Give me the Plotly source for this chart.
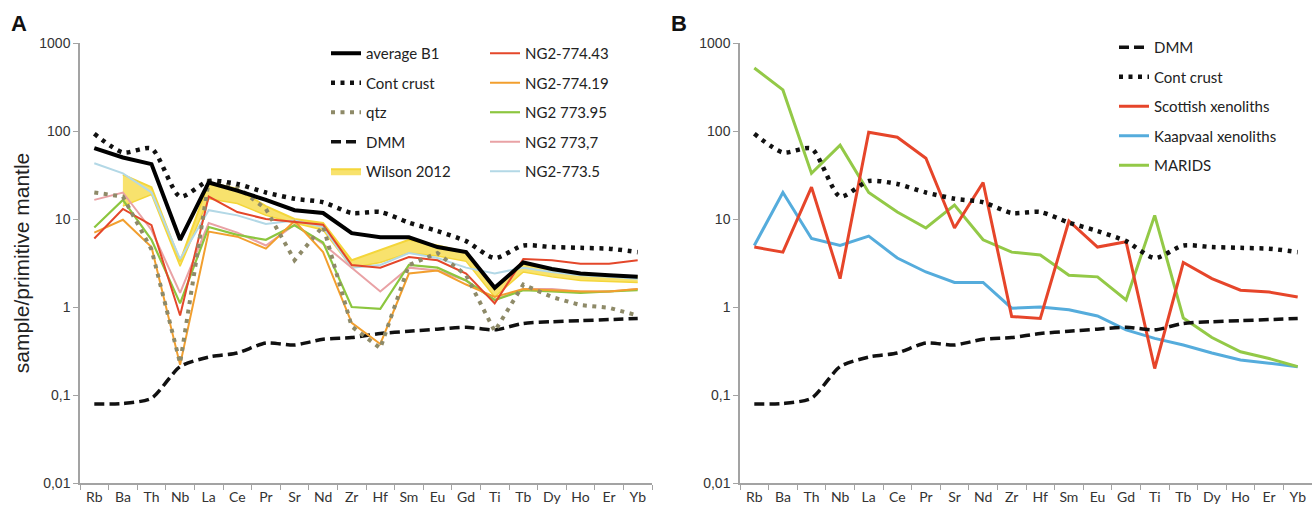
import plotly.graph_objects as go

# Element order of the spider diagram (primitive-mantle normalised)
elements = ["Rb", "Ba", "Th", "Nb", "La", "Ce", "Pr", "Sr", "Nd", "Zr",
            "Hf", "Sm", "Eu", "Gd", "Ti", "Tb", "Dy", "Ho", "Er", "Yb"]

# Reference reservoirs
dmm = [0.079, 0.080, 0.092, 0.21, 0.27, 0.30, 0.39, 0.37, 0.43, 0.45,
       0.50, 0.53, 0.56, 0.59, 0.55, 0.65, 0.68, 0.70, 0.72, 0.74]
cont_crust = [93, 57, 63, 18, 27, 25, 20, 17, 15.5, 11.7,
              12, 9.1, 7.3, 5.6, 3.6, 5.0, 4.8, 4.7, 4.6, 4.2]

# Panel A samples
avg_b1 = [64, 50, 42, 5.8, 26, 21, 16.5, 12.6, 11.7, 6.9,
          6.2, 6.2, 4.8, 4.2, 1.65, 3.2, 2.7, 2.4, 2.3, 2.2]
qtz = [20, 18, 4.5, 0.23, 27, 23, 13, 3.4, 8.3, 0.6,
       0.34, 3.0, 4.1, 2.3, 0.53, 1.8, 1.3, 1.05, 0.98, 0.8]
wilson_elements = elements[1:]
wilson_low = [14, 19, 2.9, 17, 15, 11, 9, 7.5, 2.8, 3.2,
              4.1, 3.8, 3.3, 1.3, 2.5, 2.2, 2.0, 1.95, 1.9]
wilson_high = [32, 23, 3.3, 26, 22, 14, 10, 9.0, 3.4, 4.4,
               5.8, 5.0, 4.2, 1.7, 3.1, 2.7, 2.4, 2.3, 2.2]
ng2_774_43 = [6.0, 13, 8.5, 0.8, 18, 12, 10, 9.3, 8.6, 3.0,
              2.8, 3.7, 3.4, 2.4, 1.1, 3.5, 3.4, 3.1, 3.1, 3.4]
ng2_774_19 = [7.0, 9.8, 4.8, 0.22, 7.2, 6.3, 4.6, 9.5, 4.2, 0.66,
              0.38, 2.4, 2.6, 1.8, 1.3, 1.6, 1.55, 1.5, 1.5, 1.6]
ng2_773_95 = [8.0, 16.5, 5.8, 1.1, 8.1, 6.6, 5.8, 8.5, 5.4, 1.0,
              0.95, 3.0, 2.8, 2.0, 1.2, 1.55, 1.5, 1.45, 1.5, 1.55]
ng2_773_7 = [16.5, 20, 7.5, 1.45, 9.0, 7.0, 5.0, 8.6, 5.2, 2.8,
             1.5, 2.8, 2.6, 2.0, 1.2, 1.6, 1.6, 1.5, 1.5, 1.6]
ng2_773_5 = [43, 33, 20, 3.5, 12.6, 11, 8.8, 9.6, 8.1, 2.8,
             3.0, 4.1, 3.6, 2.8, 2.4, 2.8, 2.5, 2.3, 2.2, 2.1]

# Panel B comparison suites
scottish = [4.8, 4.2, 23, 2.1, 97, 85, 49, 7.9, 26, 0.78,
            0.74, 9.5, 4.8, 5.5, 0.20, 3.2, 2.1, 1.55, 1.48, 1.3]
kaapvaal = [5.0, 20, 6.0, 5.0, 6.4, 3.6, 2.5, 1.9, 1.9, 0.97,
            1.0, 0.93, 0.79, 0.55, 0.44, 0.37, 0.30, 0.25, 0.23, 0.21]
marids = [520, 293, 33, 69, 20, 12, 7.9, 14.4, 5.8, 4.2,
          3.9, 2.3, 2.2, 1.2, 11, 0.75, 0.45, 0.31, 0.26, 0.21]

W, H = 1315, 512
TOP, BOTTOM = 43, 483


def px_x(p):
    return p / W


def px_y(p):
    return (BOTTOM - p) / (BOTTOM - TOP)


DOT = "4px,5.5px"
DASH = "10px,5px"
YELLOW = "#f4d63a"

fig = go.Figure()


def add(x, y, name, color, width, dash=None, legend="legend", rank=1,
        xa="x", ya="y", shape="linear", **kw):
    fig.add_trace(go.Scatter(
        x=x, y=y, name=name, mode="lines", xaxis=xa, yaxis=ya,
        line=dict(color=color, width=width, dash=dash, shape=shape,
                  smoothing=0.7 if shape == "spline" else None),
        legend=legend, legendgroup=name + legend, legendrank=rank,
        hoverinfo="skip", **kw))


# ---- Panel A ----
add(elements, dmm, "DMM", "#111111", 3.5, DASH, rank=4, shape="spline")
add(wilson_elements, wilson_low, "Wilson low", YELLOW, 1.5, showlegend=False)
fig.add_trace(go.Scatter(
    x=wilson_elements, y=wilson_high, name="Wilson 2012", mode="lines",
    line=dict(color=YELLOW, width=2), fill="tonexty",
    fillcolor="rgba(246,216,60,0.75)", legend="legend",
    legendgroup="wilson", legendrank=5, hoverinfo="skip"))
add(elements, ng2_773_5, "NG2-773.5", "#b3d8e6", 2, legend="legend2", rank=5)
add(elements, ng2_773_7, "NG2 773,7", "#e9a2a5", 2, legend="legend2", rank=4)
add(elements, ng2_773_95, "NG2 773.95", "#8cc63f", 2.2, legend="legend2", rank=3)
add(elements, ng2_774_19, "NG2-774.19", "#f29f2e", 2, legend="legend2", rank=2)
add(elements, ng2_774_43, "NG2-774.43", "#e4472a", 2, legend="legend2", rank=1)
add(elements, qtz, "qtz", "#8e8a68", 4, DOT, rank=3)
add(elements, cont_crust, "Cont crust", "#111111", 4.5, DOT, rank=2, shape="spline")
add(elements, avg_b1, "average B1", "#000000", 4, rank=1)

# ---- Panel B ----
add(elements, kaapvaal, "Kaapvaal xenoliths", "#55acdc", 3, legend="legend3",
    rank=4, xa="x2", ya="y2")
add(elements, marids, "MARIDS", "#93c947", 3, legend="legend3", rank=5,
    xa="x2", ya="y2")
add(elements, scottish, "Scottish xenoliths", "#e6452a", 3, legend="legend3",
    rank=3, xa="x2", ya="y2")
add(elements, dmm, "DMM", "#111111", 3.5, DASH, legend="legend3", rank=1,
    xa="x2", ya="y2", shape="spline")
add(elements, cont_crust, "Cont crust", "#111111", 4.5, DOT, legend="legend3",
    rank=2, xa="x2", ya="y2", shape="spline")

axis_line = dict(showline=True, linecolor="#a3a3a3", linewidth=1.5,
                 ticks="outside", ticklen=5, tickcolor="#a3a3a3",
                 tickwidth=1.3, showgrid=False, zeroline=False)

xcommon = dict(axis_line, type="category", categoryorder="array",
               categoryarray=elements, range=[-0.5, 19.5],
               tickson="boundaries",
               tickfont=dict(family="Lato", size=14, color="#333333"))
ycommon = dict(axis_line, type="log", range=[-2, 3],
               tickvals=[0.01, 0.1, 1, 10, 100, 1000],
               ticktext=["0,01", "0,1", "1", "10", "100", "1000"],
               tickfont=dict(family="Liberation Sans", size=14,
                             color="#333333"))

legend_style = dict(bgcolor="rgba(0,0,0,0)", borderwidth=0,
                    font=dict(family="Lato", size=15, color="#222222"),
                    tracegroupgap=7, traceorder="grouped",
                    xanchor="left", yanchor="top", itemwidth=30)

fig.update_layout(
    width=W, height=H,
    margin=dict(l=0, r=0, t=TOP, b=H - BOTTOM),
    paper_bgcolor="white", plot_bgcolor="white",
    xaxis=dict(xcommon, domain=[px_x(80), px_x(652)], anchor="y"),
    yaxis=dict(ycommon, domain=[0, 1], anchor="x",
               title=dict(text="sample/primitive mantle", standoff=4,
                          font=dict(family="Liberation Sans", size=21,
                                    color="#222222"))),
    xaxis2=dict(xcommon, domain=[px_x(740), px_x(1312)], anchor="y2"),
    yaxis2=dict(ycommon, domain=[0, 1], anchor="x2"),
    legend=dict(legend_style, x=px_x(326), y=px_y(37)),
    legend2=dict(legend_style, x=px_x(485), y=px_y(37)),
    legend3=dict(legend_style, x=px_x(1114), y=px_y(31)),
    showlegend=True,
    annotations=[
        dict(text="<b>A</b>", x=px_x(9), y=px_y(23), xref="paper",
             yref="paper", xanchor="left", yanchor="middle", showarrow=False,
             font=dict(family="Liberation Sans", size=22, color="#111111")),
        dict(text="<b>B</b>", x=px_x(669), y=px_y(23), xref="paper",
             yref="paper", xanchor="left", yanchor="middle", showarrow=False,
             font=dict(family="Liberation Sans", size=22, color="#111111")),
    ],
)

fig.write_html("out.html")
